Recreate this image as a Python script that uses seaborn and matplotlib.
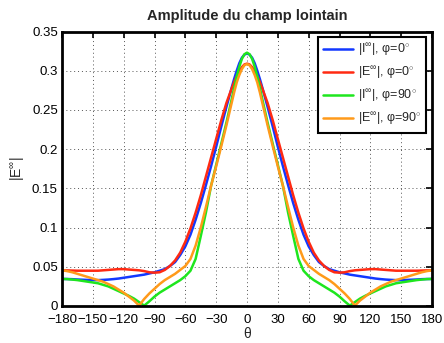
import numpy as np
import pandas as pd
import seaborn as sns
import matplotlib
matplotlib.use("Agg")
import matplotlib.pyplot as plt
from matplotlib.ticker import FixedLocator

# ---------------- data ----------------
theta = [-180, -175, -170, -165, -160, -155, -150, -145, -140, -135, -130, -125,
         -120, -115, -110, -105, -100, -95, -90, -85, -80, -75, -70, -65, -60,
         -55, -50, -45, -40, -35, -30, -25, -20, -17.5, -15, -12.5, -10, -7.5,
         -5, -2.5, 0,
         2.5, 5, 7.5, 10, 12.5, 15, 17.5, 20, 25, 30, 35, 40, 45, 50, 55, 60, 65,
         70, 75, 80, 85, 90, 95, 100, 105, 110, 115, 120, 125, 130, 135, 140,
         145, 150, 155, 160, 165, 170, 175, 180]

I_phi0 = [0.0345, 0.0344, 0.0342, 0.0338, 0.0335, 0.0332, 0.0330, 0.0330, 0.0333,
          0.0337, 0.0343, 0.0350, 0.0360, 0.0370, 0.0380, 0.0390, 0.0400, 0.0415,
          0.0430, 0.0450, 0.0470, 0.0510, 0.0560, 0.0650, 0.0760, 0.0910, 0.1100,
          0.1310, 0.1540, 0.1780, 0.2030, 0.2290, 0.2540, 0.2660, 0.2780, 0.2895,
          0.3000, 0.3095, 0.3165, 0.3205, 0.3220,
          0.3205, 0.3165, 0.3095, 0.3000, 0.2895, 0.2780, 0.2660, 0.2540, 0.2290,
          0.2030, 0.1780, 0.1540, 0.1310, 0.1100, 0.0910, 0.0760, 0.0650, 0.0560,
          0.0510, 0.0470, 0.0450, 0.0430, 0.0415, 0.0400, 0.0390, 0.0380, 0.0370,
          0.0360, 0.0350, 0.0343, 0.0337, 0.0333, 0.0330, 0.0330, 0.0332, 0.0335,
          0.0338, 0.0342, 0.0344, 0.0345]

E_phi0 = [0.0455, 0.0454, 0.0452, 0.0450, 0.0450, 0.0450, 0.0450, 0.0450, 0.0455,
          0.0460, 0.0465, 0.0470, 0.0470, 0.0465, 0.0460, 0.0455, 0.0445, 0.0430,
          0.0425, 0.0430, 0.0460, 0.0510, 0.0580, 0.0680, 0.0820, 0.0990, 0.1190,
          0.1410, 0.1650, 0.1890, 0.2130, 0.2370, 0.2590, 0.2680, 0.2770, 0.2855,
          0.2930, 0.2995, 0.3045, 0.3080, 0.3090,
          0.3080, 0.3045, 0.2995, 0.2930, 0.2855, 0.2770, 0.2680, 0.2590, 0.2370,
          0.2130, 0.1890, 0.1650, 0.1410, 0.1190, 0.0990, 0.0820, 0.0680, 0.0580,
          0.0510, 0.0460, 0.0430, 0.0425, 0.0430, 0.0445, 0.0455, 0.0460, 0.0465,
          0.0470, 0.0470, 0.0465, 0.0460, 0.0455, 0.0450, 0.0450, 0.0450, 0.0450,
          0.0450, 0.0452, 0.0454, 0.0455]

I_phi90 = [0.0345, 0.0343, 0.0337, 0.0330, 0.0320, 0.0310, 0.0300, 0.0290, 0.0270,
           0.0250, 0.0220, 0.0190, 0.0160, 0.0130, 0.0095, 0.0050, 0.0005, 0.0060,
           0.0120, 0.0170, 0.0210, 0.0250, 0.0290, 0.0330, 0.0380, 0.0450, 0.0600,
           0.0890, 0.1190, 0.1530, 0.1800, 0.2070, 0.2340, 0.2485, 0.2630, 0.2780,
           0.2925, 0.3050, 0.3150, 0.3210, 0.3230,
           0.3210, 0.3150, 0.3050, 0.2925, 0.2780, 0.2630, 0.2485, 0.2340, 0.2070,
           0.1800, 0.1530, 0.1190, 0.0890, 0.0600, 0.0450, 0.0380, 0.0330, 0.0290,
           0.0250, 0.0210, 0.0170, 0.0120, 0.0060, 0.0005, 0.0050, 0.0095, 0.0130,
           0.0160, 0.0190, 0.0220, 0.0250, 0.0270, 0.0290, 0.0300, 0.0310, 0.0320,
           0.0330, 0.0337, 0.0343, 0.0345]

E_phi90 = [0.0455, 0.0445, 0.0430, 0.0410, 0.0390, 0.0370, 0.0350, 0.0330, 0.0310,
           0.0280, 0.0250, 0.0210, 0.0170, 0.0120, 0.0070, 0.0005, 0.0090, 0.0160,
           0.0220, 0.0280, 0.0330, 0.0370, 0.0410, 0.0460, 0.0510, 0.0600, 0.0770,
           0.1000, 0.1260, 0.1530, 0.1780, 0.2040, 0.2305, 0.2445, 0.2585, 0.2725,
           0.2850, 0.2945, 0.3020, 0.3070, 0.3085,
           0.3070, 0.3020, 0.2945, 0.2850, 0.2725, 0.2585, 0.2445, 0.2305, 0.2040,
           0.1780, 0.1530, 0.1260, 0.1000, 0.0770, 0.0600, 0.0510, 0.0460, 0.0410,
           0.0370, 0.0330, 0.0280, 0.0220, 0.0160, 0.0090, 0.0005, 0.0070, 0.0120,
           0.0170, 0.0210, 0.0250, 0.0280, 0.0310, 0.0330, 0.0350, 0.0370, 0.0390,
           0.0410, 0.0430, 0.0445, 0.0455]

series_labels = [r"|I$^{\infty}$|, φ=0$^{\circ}$",
                 r"|E$^{\infty}$|, φ=0$^{\circ}$",
                 r"|I$^{\infty}$|, φ=90$^{\circ}$",
                 r"|E$^{\infty}$|, φ=90$^{\circ}$"]
series_colors = ["#1238ff", "#ff2a12", "#1ee61e", "#ff9a1a"]

x_ticks = [-180, -150, -120, -90, -60, -30, 0, 30, 60, 90, 120, 150, 180]
y_ticks = [0, 0.05, 0.1, 0.15, 0.2, 0.25, 0.3, 0.35]
y_tick_labels = ["0", "0.05", "0.1", "0.15", "0.2", "0.25", "0.3", "0.35"]

title = "Amplitude du champ lointain"
xlabel = "θ"
ylabel = r"|E$^{\infty}$|"

# ---------------- build long-form frame ----------------
frames = []
for lab, vals in zip(series_labels, [I_phi0, E_phi0, I_phi90, E_phi90]):
    frames.append(pd.DataFrame({"theta": theta, "val": vals, "serie": lab}))
df = pd.concat(frames, ignore_index=True)

# ---------------- style ----------------
sns.set_style("white")
plt.rcParams["font.family"] = ["Liberation Sans", "DejaVu Sans"]
plt.rcParams["mathtext.fontset"] = "custom"
plt.rcParams["mathtext.rm"] = "Liberation Sans"
plt.rcParams["mathtext.it"] = "Liberation Sans:italic"
plt.rcParams["mathtext.bf"] = "Liberation Sans:bold"

fig = plt.figure(figsize=(4.44, 3.43), dpi=100)
ax = fig.add_axes([62 / 444, 1 - 306 / 343, (432 - 62) / 444, (306 - 31.5) / 343])

sns.lineplot(data=df, x="theta", y="val", hue="serie", hue_order=series_labels,
             palette=series_colors, linewidth=1.8, sort=False, ax=ax,
             estimator=None)

ax.set_xlim(-180, 180)
ax.set_ylim(0, 0.35)
ax.xaxis.set_major_locator(FixedLocator(x_ticks))
ax.yaxis.set_major_locator(FixedLocator(y_ticks))
ax.set_yticklabels(y_tick_labels)
ax.tick_params(direction="in", length=4, width=1.2, top=True, right=True,
               labelsize=9.5, pad=3, colors="black")
ax.tick_params(axis="x", pad=6)
ax.grid(True, linestyle=(0, (1, 3)), color="#555555", linewidth=0.7)
for s in ax.spines.values():
    s.set_linewidth(2.0)
    s.set_color("black")

ax.set_title(title, fontsize=10.5, fontweight="bold", pad=8)
ax.set_xlabel(xlabel, fontsize=10, labelpad=0.5)
ax.set_ylabel(ylabel, fontsize=10, labelpad=4)

leg = ax.legend(loc="upper right", fontsize=9, frameon=True, fancybox=False,
                edgecolor="black", handlelength=2.4, borderaxespad=0.45,
                labelspacing=0.45, handletextpad=0.4, borderpad=0.4)
leg.get_frame().set_linewidth(1.5)
leg.get_frame().set_alpha(1)

fig.savefig("out.png", dpi=100)
